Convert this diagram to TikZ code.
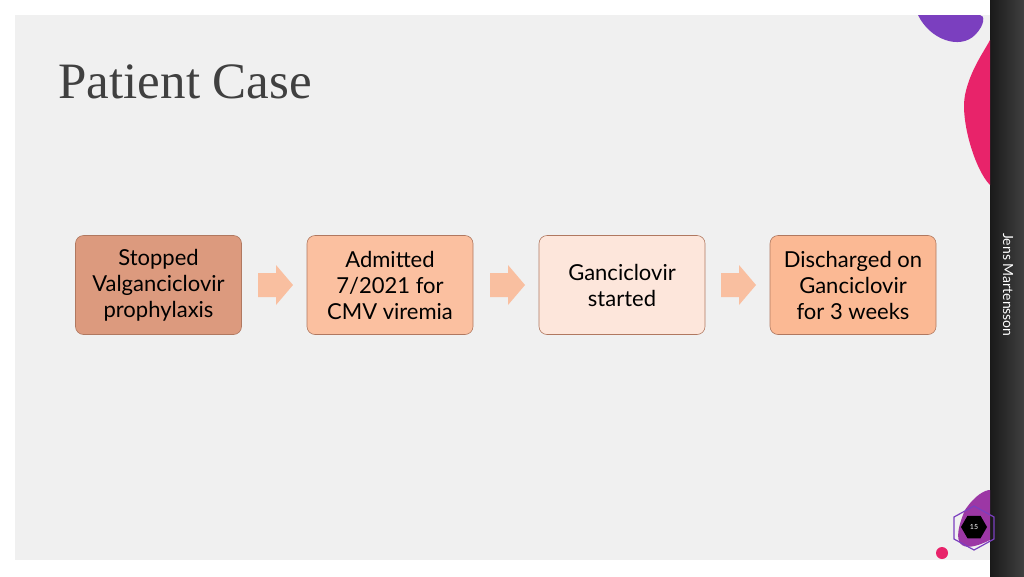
\documentclass[tikz,border=0pt]{standalone}
\usepackage{fontspec}
\setmainfont{Lato}
\newfontfamily\titlefont{Liberation Serif}
\usetikzlibrary{positioning,shapes.geometric}
\definecolor{pagegrey}{HTML}{F0F0F0}
\definecolor{stepA}{HTML}{DC9A7E}
\definecolor{stepB}{HTML}{FBC0A0}
\definecolor{stepC}{HTML}{FDE6DB}
\definecolor{stepD}{HTML}{FBB994}
\definecolor{edgebrown}{HTML}{B07860}
\definecolor{arrowfill}{HTML}{F9BFA0}
\definecolor{blobpink}{HTML}{E8236A}
\definecolor{blobviolet}{HTML}{7B3FBF}
\begin{document}
\begin{tikzpicture}
    [x=1pt,y=-1pt,
    stepbox/.style={rectangle,rounded corners=8pt,draw=edgebrown,line width=0.6pt,
      minimum width=166pt,minimum height=99pt,align=center,font=\fontsize{22}{26}\selectfont},
    chevron/.pic={\fill[arrowfill] (-17,-12) -- (1,-12) -- (1,-20) -- (18,0) -- (1,20) -- (1,12) -- (-17,12) -- cycle;}
    ]
    \useasboundingbox (0,0) rectangle (1024,576);
    \fill[white] (0,0) rectangle (1024,576);
    \fill[pagegrey] (15,15) rectangle (990,560);
    \shade[left color=black!90,right color=black!75] (990,0) rectangle (1024,576);
    % blobs
    \fill[blobviolet] (918,15) .. controls (930,40) and (960,50) .. (975,35) .. controls (985,25) and (985,15) .. (980,15) -- cycle;
    \fill[blobpink] (990,185) .. controls (975,170) and (960,120) .. (965,95) .. controls (970,70) and (985,50) .. (990,40) -- cycle;
    \fill[blobviolet!70!blobpink] (990,540) .. controls (960,555) and (950,545) .. (965,510) .. controls (975,495) and (985,490) .. (990,490) -- cycle;
    \fill[blobpink] (942,553) circle (6);
    \draw[blobviolet,line width=1.2pt] (974,506) -- (994,517) -- (994,539) -- (974,550) -- (954,539) -- (954,517) -- cycle;
    \node (num) at (974,527) [regular polygon,regular polygon sides=6,fill=black,minimum size=26pt,inner sep=0pt,text=white,font=\fontsize{7}{8}\selectfont] {15};
    \node (author) at (1008,285) [rotate=-90,text=white,font=\fontsize{14}{16}\selectfont] {Jens Martensson};
    \node (title) at (55,82) [anchor=west,text=black!75,font=\titlefont\fontsize{51}{56}\selectfont] {Patient Case};
    % steps
    \node (s1) at (158.5,285) [stepbox,fill=stepA] {Stopped\\Valganciclovir\\prophylaxis};
    \node (s2) at (390,285) [stepbox,fill=stepB] {Admitted\\7/2021 for\\CMV viremia};
    \node (s3) at (622,285) [stepbox,fill=stepC] {Ganciclovir\\started};
    \node (s4) at (853,285) [stepbox,fill=stepD] {Discharged on\\Ganciclovir\\for 3 weeks};
    \pic at (275,285) {chevron};
    \pic at (507,285) {chevron};
    \pic at (738,285) {chevron};
  \end{tikzpicture}
\end{document}
